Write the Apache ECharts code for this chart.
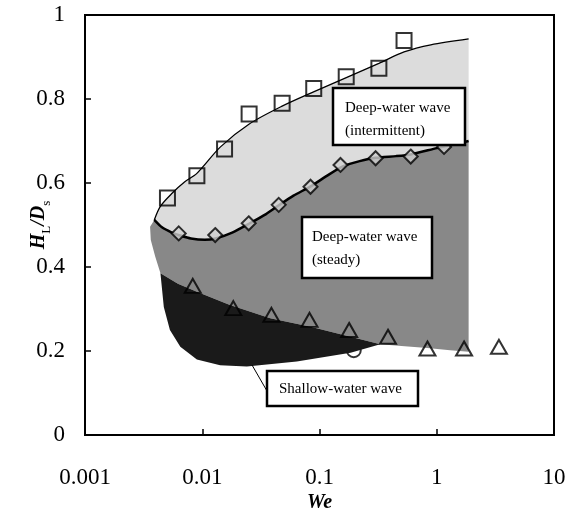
<!DOCTYPE html>
<html>
<head>
<meta charset="utf-8">
<script src="https://cdn.jsdelivr.net/npm/echarts@6/dist/echarts.min.js"></script>
<style>
  html, body { margin: 0; padding: 0; background: #fff; }
  #chart { width: 570px; height: 519px; }
</style>
</head>
<body>
<div id="chart"></div>
<script>
// ---- Data ----
const xTickLabels = ['0.001', '0.01', '0.1', '1', '10'];
const yTickLabels = ['0', '0.2', '0.4', '0.6', '0.8', '1'];

// Measured points
const squareX = [0.00505, 0.0090, 0.0155, 0.0251, 0.048, 0.0893, 0.169, 0.321, 0.526];
const squareY = [0.564, 0.617, 0.681, 0.764, 0.790, 0.825, 0.853, 0.873, 0.939];
const diamondX = [0.0063, 0.0129, 0.0249, 0.0449, 0.0838, 0.151, 0.301, 0.600, 1.154];
const diamondY = [0.480, 0.476, 0.504, 0.548, 0.591, 0.643, 0.659, 0.663, 0.686];
const triangleX = [0.0083, 0.0184, 0.0389, 0.0822, 0.179, 0.384, 0.833, 1.71, 3.39];
const triangleY = [0.355, 0.302, 0.286, 0.274, 0.250, 0.234, 0.206, 0.206, 0.210];
const circleX = [0.196];
const circleY = [0.202];

// Regime boundaries
// upper boundary of intermittent deep-water wave region (thin curve)
const upperBoundX = [0.0039, 0.00438, 0.0055, 0.0071, 0.009, 0.0143, 0.025, 0.048, 0.089, 0.16, 0.321, 0.526, 0.89, 1.87];
const upperBoundY = [0.512, 0.544, 0.575, 0.603, 0.623, 0.686, 0.740, 0.783, 0.817, 0.848, 0.885, 0.912, 0.929, 0.943];
// boundary intermittent / steady (thick curve through diamonds)
const steadyBoundX = [0.0039, 0.0045, 0.0055, 0.0065, 0.008, 0.0105, 0.013, 0.018, 0.025, 0.035, 0.045, 0.06, 0.084, 0.12, 0.16, 0.22, 0.3, 0.45, 0.6, 1.0, 1.87];
const steadyBoundY = [0.512, 0.495, 0.482, 0.475, 0.468, 0.465, 0.468, 0.482, 0.503, 0.526, 0.547, 0.570, 0.592, 0.620, 0.640, 0.652, 0.660, 0.664, 0.668, 0.683, 0.700];
// lower boundary of steady region, right part
const steadyBottomX = [1.87, 1.87, 1.3, 0.83, 0.5, 0.33];
const steadyBottomY = [0.700, 0.198, 0.202, 0.207, 0.212, 0.216];
// boundary steady / shallow (top of shallow region), left to right
const shallowTopX = [0.0044, 0.0062, 0.009, 0.017, 0.038, 0.084, 0.184, 0.33];
const shallowTopY = [0.385, 0.360, 0.341, 0.310, 0.278, 0.258, 0.234, 0.216];
// bottom of shallow region, right to left
const shallowBottomX = [0.184, 0.064, 0.024, 0.0142, 0.009, 0.0065, 0.0053, 0.0047];
const shallowBottomY = [0.196, 0.175, 0.163, 0.166, 0.180, 0.210, 0.250, 0.305];
// left edge of steady region, bottom to top
const steadyLeftX = [0.00397, 0.00364, 0.00359];
const steadyLeftY = [0.425, 0.464, 0.496];

// ---- helpers ----
const zip = (xs, ys) => xs.map((x, i) => [x, ys[i]]);
const rev = a => a.slice().reverse();

const lightPoly = zip(upperBoundX, upperBoundY)
  .concat([[1.87, 0.700]])
  .concat(rev(zip(steadyBoundX, steadyBoundY)));
const mediumPoly = zip(steadyBoundX, steadyBoundY)
  .concat(zip(steadyBottomX, steadyBottomY))
  .concat(rev(zip(shallowTopX, shallowTopY)))
  .concat(zip(steadyLeftX, steadyLeftY));
const darkPoly = zip(shallowTopX, shallowTopY)
  .concat(zip(shallowBottomX, shallowBottomY));

function polySeries(points, color) {
  return {
    type: 'custom',
    coordinateSystem: 'cartesian2d',
    silent: true,
    z: 1,
    data: [0],
    clip: true,
    renderItem: function (params, api) {
      const pts = points.map(p => api.coord(p));
      return { type: 'polygon', shape: { points: pts }, style: { fill: color, stroke: null } };
    }
  };
}

const serif = 'Liberation Serif, Times New Roman, serif';
const markerStyle = { color: 'transparent', borderColor: '#000', borderWidth: 2 };

const option = {
  animation: false,
  backgroundColor: '#fff',
  grid: { left: 85, right: 16, top: 15, bottom: 84, show: true, borderColor: '#000', borderWidth: 2, backgroundColor: 'transparent' },
  xAxis: {
    type: 'log', logBase: 10, min: 0.001, max: 10,
    name: 'We', nameLocation: 'middle', nameGap: 58, nameMoveOverlap: false,
    nameTextStyle: { fontFamily: serif, fontSize: 20, fontWeight: 'bold', fontStyle: 'italic', color: '#000' },
    axisLine: { show: true, lineStyle: { color: '#000', width: 2 } },
    axisTick: { show: true, inside: true, length: 6, lineStyle: { color: '#000', width: 1.5 } },
    minorTick: { show: false },
    splitLine: { show: false },
    axisLabel: { margin: 31, fontFamily: serif, fontSize: 23, color: '#000',
      formatter: (v, i) => xTickLabels[i] }
  },
  yAxis: {
    type: 'value', min: 0, max: 1, interval: 0.2,
    name: '{i|H}{s|L}{i|/D}{s|s}', nameLocation: 'middle', nameGap: 36, nameRotate: 90, nameMoveOverlap: false,
    nameTextStyle: {
      rich: {
        i: { fontFamily: serif, fontSize: 20, fontWeight: 'bold', fontStyle: 'italic', color: '#000', lineHeight: 24, verticalAlign: 'bottom' },
        s: { fontFamily: serif, fontSize: 13, color: '#000', lineHeight: 24, verticalAlign: 'bottom', padding: [0, 0, -4, 0] }
      }
    },
    axisLine: { show: true, lineStyle: { color: '#000', width: 2 } },
    axisTick: { show: true, inside: true, length: 6, lineStyle: { color: '#000', width: 1.5 } },
    splitLine: { show: false },
    axisLabel: { margin: 20, fontFamily: serif, fontSize: 23, color: '#000',
      formatter: (v, i) => yTickLabels[i] }
  },
  series: [
    polySeries(lightPoly, '#dcdcdc'),
    polySeries(mediumPoly, '#888888'),
    polySeries(darkPoly, '#1a1a1a'),
    {
      type: 'line', data: zip(upperBoundX, upperBoundY), symbol: 'none', smooth: 0.3, z: 3,
      lineStyle: { color: '#000', width: 1.3 }, silent: true
    },
    {
      type: 'line', data: zip(steadyBoundX, steadyBoundY), symbol: 'none', smooth: 0.2, z: 3,
      lineStyle: { color: '#000', width: 2.5 }, silent: true
    },
    { type: 'scatter', data: zip(squareX, squareY), symbol: 'rect', symbolSize: 15, z: 4, itemStyle: markerStyle },
    { type: 'scatter', data: zip(diamondX, diamondY), symbol: 'diamond', symbolSize: 14, z: 4, itemStyle: { color: '#cfcfcf', borderColor: '#000', borderWidth: 2 } },
    { type: 'scatter', data: zip(triangleX, triangleY), symbol: 'triangle', symbolSize: [16, 14], z: 4, itemStyle: markerStyle },
    { type: 'scatter', data: zip(circleX, circleY), symbol: 'circle', symbolSize: 14, z: 0, itemStyle: markerStyle }
  ],
  graphic: [
    // leader line for shallow-water wave label
    { type: 'line', z: 10, shape: { x1: 252, y1: 365, x2: 267, y2: 391 }, style: { stroke: '#000', lineWidth: 1 } },
    // label boxes
    { type: 'rect', z: 10, shape: { x: 333, y: 88, width: 132, height: 57 }, style: { fill: '#fff', stroke: '#000', lineWidth: 2.5 } },
    { type: 'text', z: 11, x: 345, y: 108, style: { text: 'Deep-water wave', font: '15px "Liberation Serif"', fill: '#000', textVerticalAlign: 'middle' } },
    { type: 'text', z: 11, x: 345, y: 131, style: { text: '(intermittent)', font: '15px "Liberation Serif"', fill: '#000', textVerticalAlign: 'middle' } },
    { type: 'rect', z: 10, shape: { x: 302, y: 217, width: 130, height: 61 }, style: { fill: '#fff', stroke: '#000', lineWidth: 2.5 } },
    { type: 'text', z: 11, x: 312, y: 237, style: { text: 'Deep-water wave', font: '15px "Liberation Serif"', fill: '#000', textVerticalAlign: 'middle' } },
    { type: 'text', z: 11, x: 312, y: 260, style: { text: '(steady)', font: '15px "Liberation Serif"', fill: '#000', textVerticalAlign: 'middle' } },
    { type: 'rect', z: 10, shape: { x: 267, y: 371, width: 151, height: 35 }, style: { fill: '#fff', stroke: '#000', lineWidth: 2.5 } },
    { type: 'text', z: 11, x: 279, y: 389, style: { text: 'Shallow-water wave', font: '15px "Liberation Serif"', fill: '#000', textVerticalAlign: 'middle' } }
  ]
};

const chart = echarts.init(document.getElementById('chart'), null, { renderer: 'canvas' });
chart.setOption(option);
</script>
</body>
</html>
